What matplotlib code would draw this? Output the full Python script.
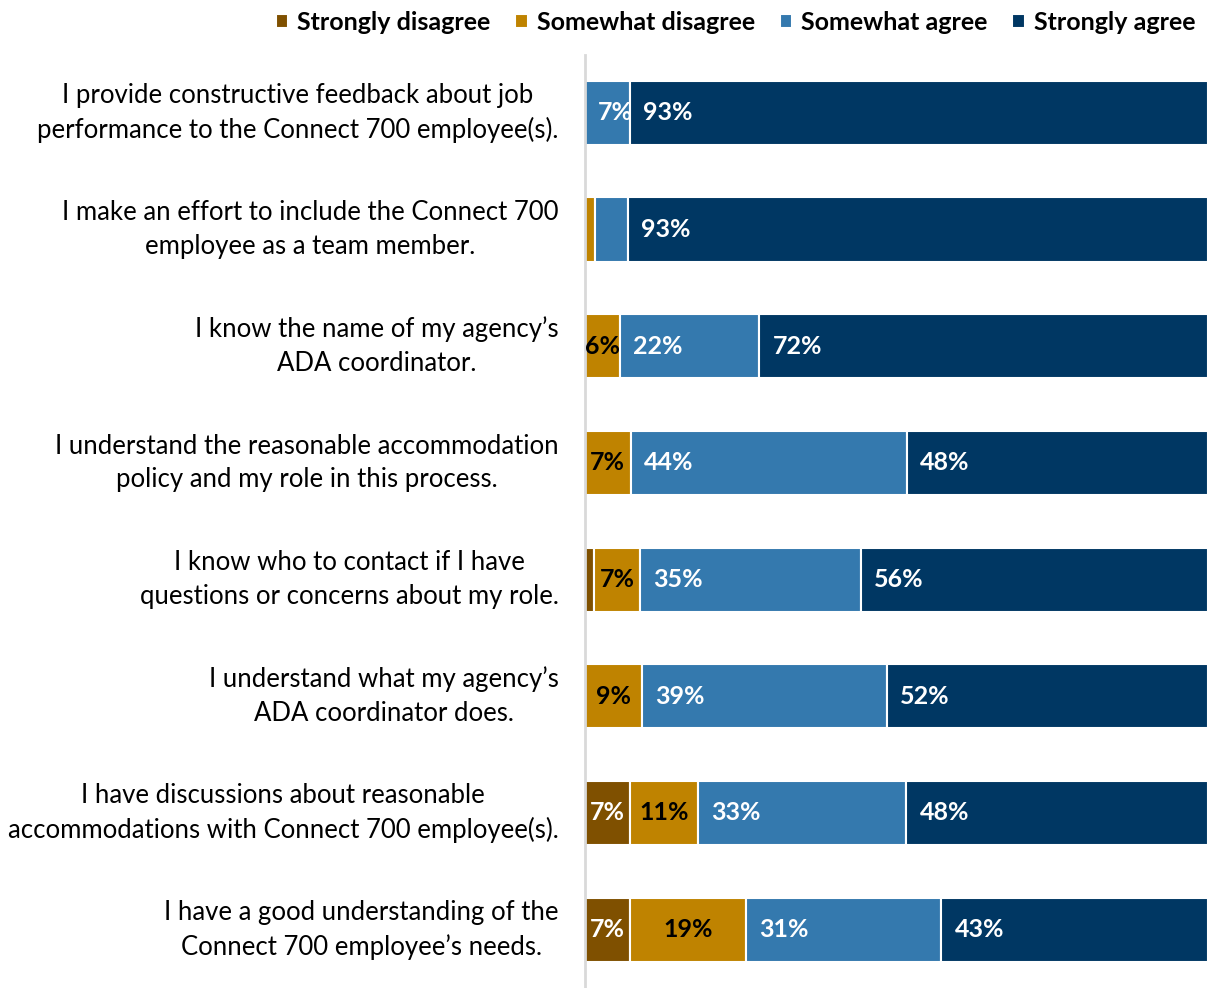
import numpy as np
import matplotlib.pyplot as plt

plt.rcParams['font.family'] = ['Lato', 'DejaVu Sans']

# Datos
statements = [
    "I provide constructive feedback about job\nperformance to the Connect 700 employee(s).",
    "I make an effort to include the Connect 700\nemployee as a team member.",
    "I know the name of my agency\u2019s\nADA coordinator.",
    "I understand the reasonable accommodation\npolicy and my role in this process.",
    "I know who to contact if I have\nquestions or concerns about my role.",
    "I understand what my agency\u2019s\nADA coordinator does.",
    "I have discussions about reasonable\naccommodations with Connect 700 employee(s).",
    "I have a good understanding of the\nConnect 700 employee\u2019s needs.",
]
series = ["Strongly disagree", "Somewhat disagree", "Somewhat agree", "Strongly agree"]
strongly_disagree = [0, 0, 0, 0, 1.5, 0, 7.2, 7.2]
somewhat_disagree = [0, 1.6, 5.6, 7.3, 7.4, 9.2, 11.0, 18.6]
somewhat_agree = [7.2, 5.3, 22.4, 44.4, 35.4, 39.2, 33.4, 31.4]
strongly_agree = [92.8, 93.1, 72.0, 48.3, 55.7, 51.6, 48.4, 42.8]

colors = ["#7F5000", "#BF8300", "#3479AE", "#003763"]
text_colors = ["white", "black", "white", "white"]
centered = [True, True, False, False]
min_label = 5.5

fig = plt.figure(figsize=(12.08, 9.88), dpi=100)
ax = fig.add_axes([0.4843, 0.0, 0.5157, 0.9448])

data = [strongly_disagree, somewhat_disagree, somewhat_agree, strongly_agree]
y = np.arange(len(statements))
left = np.zeros(len(statements))
for vals, name, col, tcol, cen in zip(data, series, colors, text_colors, centered):
    vals = np.array(vals, dtype=float)
    ax.barh(y, vals, left=left, height=0.55, color=col, edgecolor="white",
            linewidth=1.5, label=name)
    for yi, (l, v) in enumerate(zip(left, vals)):
        if v >= min_label:
            if cen:
                ax.text(l + v / 2, yi, f"{round(v)}%", ha="center", va="center",
                        color=tcol, fontsize=18, fontweight="bold")
            else:
                ax.text(l + 2.1, yi, f"{round(v)}%", ha="left", va="center",
                        color=tcol, fontsize=18, fontweight="bold")
    left += vals

ax.set_xlim(0, 100)
ax.set_ylim(len(statements) - 0.5, -0.5)
ax.set_xticks([])
ax.set_yticks(y)
ax.set_yticklabels(statements, fontsize=18.5, multialignment="center", linespacing=1.43)
for t in ax.get_yticklabels():
    t.set_verticalalignment("center")
ax.tick_params(axis="y", length=0, pad=19)
for s in ["top", "right", "bottom"]:
    ax.spines[s].set_visible(False)
ax.spines["left"].set_color("#D9D9D9")
ax.spines["left"].set_linewidth(2)

fig.legend(loc="upper right", bbox_to_anchor=(1.008, 1.012), ncol=4, frameon=False,
           prop={"size": 18, "weight": "bold"}, handlelength=0.5, handleheight=0.5,
           handletextpad=0.35, columnspacing=1.0)

plt.savefig("out.png")
